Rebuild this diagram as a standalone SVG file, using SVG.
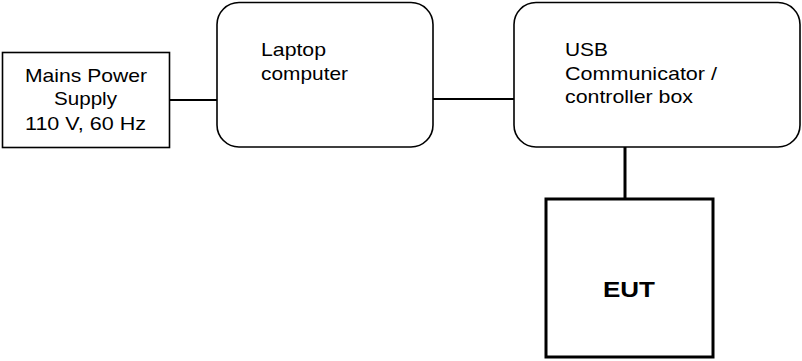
<svg xmlns="http://www.w3.org/2000/svg" width="802" height="361" viewBox="0 0 802 361">
  <style>
    .box { fill: #fff; stroke: #000; stroke-width: 1.6; }
    .eut { fill: #fff; stroke: #000; stroke-width: 3; }
    .wire { stroke: #000; stroke-width: 2; fill: none; }
    .lbl { font-family: "Liberation Sans", Arial, sans-serif; font-size: 18.5px; fill: #000; }
    .bold { font-family: "Liberation Sans", Arial, sans-serif; font-size: 22px; font-weight: bold; fill: #000; }
  </style>
  <rect width="802" height="361" fill="#fff"/>

  <g id="connectors">
    <line class="wire" x1="170" y1="100" x2="217" y2="100"/>
    <line class="wire" x1="433" y1="99" x2="514" y2="99"/>
    <line class="wire" x1="625" y1="147" x2="625" y2="199" style="stroke-width:3"/>
  </g>

  <g id="mains">
    <rect class="box" x="2.5" y="52.5" width="167" height="95"/>
    <text class="lbl" x="25" y="82" textLength="122" lengthAdjust="spacingAndGlyphs">Mains Power</text>
    <text class="lbl" x="54" y="105" textLength="63" lengthAdjust="spacingAndGlyphs">Supply</text>
    <text class="lbl" x="25" y="130" textLength="121" lengthAdjust="spacingAndGlyphs">110 V, 60 Hz</text>
  </g>

  <g id="laptop">
    <rect class="box" x="217" y="2.5" width="216" height="144.5" rx="22" ry="22"/>
    <text class="lbl" x="261" y="56" textLength="65" lengthAdjust="spacingAndGlyphs">Laptop</text>
    <text class="lbl" x="261" y="80" textLength="87" lengthAdjust="spacingAndGlyphs">computer</text>
  </g>

  <g id="usb">
    <rect class="box" x="514" y="2.5" width="286" height="144.5" rx="22" ry="22"/>
    <text class="lbl" x="565" y="56" textLength="43" lengthAdjust="spacingAndGlyphs">USB</text>
    <text class="lbl" x="565" y="80" textLength="152" lengthAdjust="spacingAndGlyphs">Communicator /</text>
    <text class="lbl" x="565" y="103" textLength="128" lengthAdjust="spacingAndGlyphs">controller box</text>
  </g>

  <g id="eut">
    <rect class="eut" x="546" y="199" width="167" height="158"/>
    <text class="bold" x="603" y="297" textLength="52" lengthAdjust="spacingAndGlyphs">EUT</text>
  </g>
</svg>
